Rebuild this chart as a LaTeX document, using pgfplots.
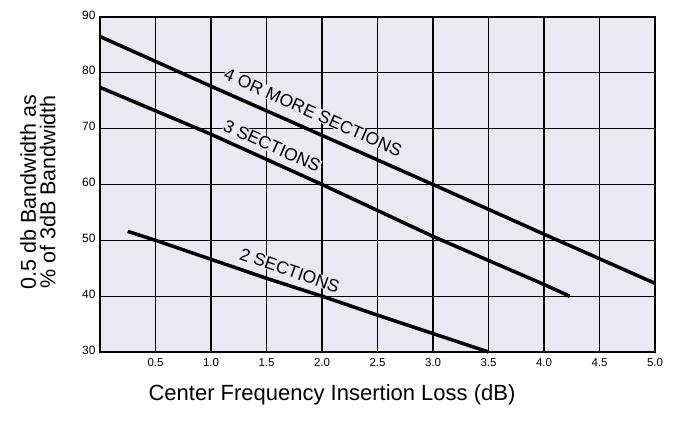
\documentclass[border=0pt]{standalone}
\usepackage{pgfplots}
\pgfplotsset{compat=1.18}
\usepackage{fontspec}
\setmainfont{Liberation Sans}
\definecolor{bgcol}{RGB}{234,232,240}
\begin{document}
\begin{tikzpicture}[x=1pt,y=1pt]
\begin{axis}[
  at={(100pt,86pt)}, anchor=south west,
  scale only axis, width=555pt, height=335pt,
  xmin=0, xmax=5, ymin=30, ymax=90,
  xtick={0.5,1,...,5}, ytick={30,40,...,90},
  extra x ticks={0}, extra x tick labels={},
  extra x tick style={grid=major},
  xticklabel style={/pgf/number format/.cd, fixed, fixed zerofill, precision=1, /tikz/.cd, font=\fontsize{11.5}{13}\selectfont, yshift=-3pt},
  yticklabel style={font=\fontsize{12}{13}\selectfont, yshift=2pt, xshift=-1pt},
  /pgf/number format/assume math mode=true,
  major tick length=0pt,
  grid=major,
  major grid style={black, line width=1.3pt},
  axis line style={black, line width=1.3pt},
  axis background/.style={fill=bgcol},
  clip=false,
]
\addplot[black, line width=3.5pt] coordinates {(0,86.5) (1,77.6) (2,68.8) (3,60.0) (4,51.1) (5,42.3)};
\addplot[black, line width=3.5pt] coordinates {(0,77.4) (1,69.0) (2,60.0) (3,50.7) (4,42.1) (4.23,40.0)};
\addplot[black, line width=3.5pt] coordinates {(0.25,51.6) (0.5,50.0) (1,46.6) (1.5,43.2) (2,40.0) (2.5,36.6) (3,33.3) (3.5,30.0)};
\node[rotate=-24, fill=bgcol, inner sep=0.3pt, font=\fontsize{17.5}{19}\selectfont] at (axis cs:1.92,72.9) {4 OR MORE SECTIONS};
\node[rotate=-24, fill=bgcol, inner sep=0.3pt, font=\fontsize{17.5}{19}\selectfont] at (axis cs:1.55,66.9) {3 SECTIONS};
\node[rotate=-19, fill=bgcol, inner sep=0.3pt, font=\fontsize{17.5}{19}\selectfont] at (axis cs:1.71,44.6) {2 SECTIONS};
\end{axis}
\node[rotate=90, align=center, font=\fontsize{21.5}{19.5}\selectfont] at (38pt,246pt) {0.5 db Bandwidth as\\\% of 3dB Bandwidth};
\node[font=\fontsize{22}{24}\selectfont] at (332pt,43pt) {Center Frequency Insertion Loss (dB)};
\pgfresetboundingbox
\path[use as bounding box] (0,0) rectangle (673pt,438pt);
\end{tikzpicture}
\end{document}
